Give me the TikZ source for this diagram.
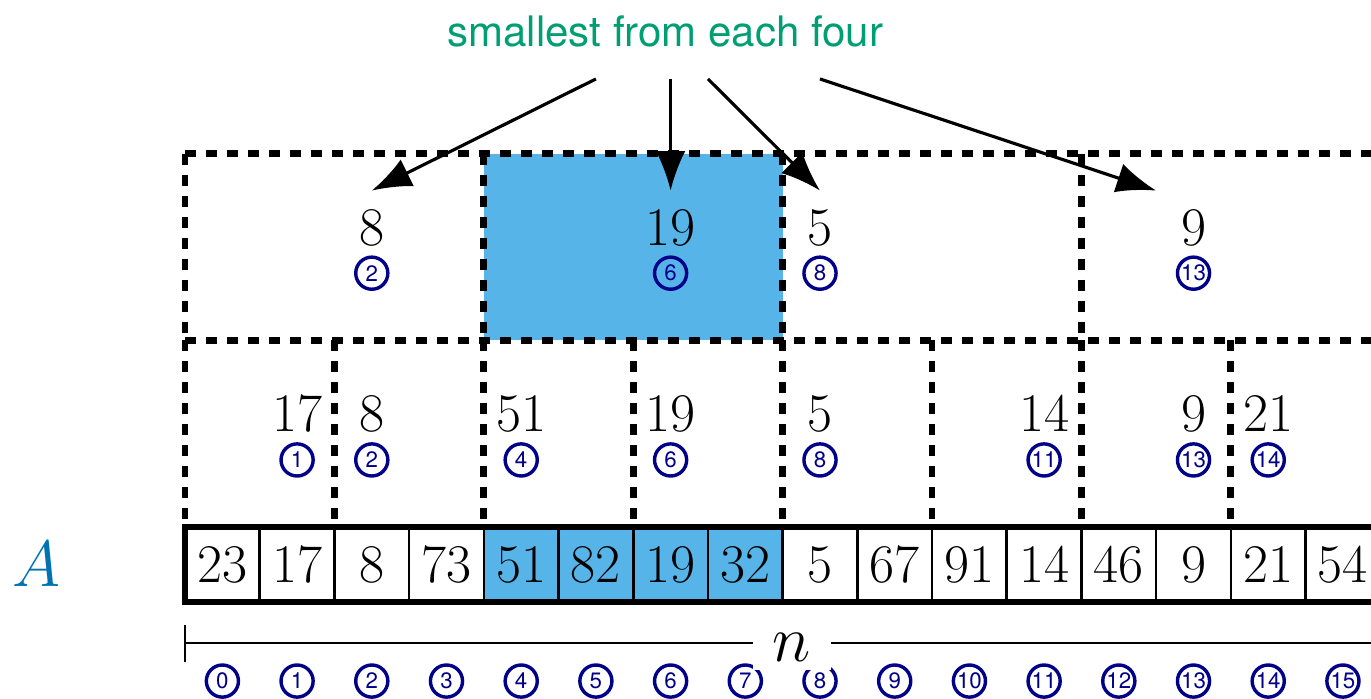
\documentclass[tikz,border=0pt]{standalone}
\usepackage{fontspec}
\setsansfont{TeX Gyre Heros}
\usetikzlibrary{arrows.meta, positioning, calc}
\definecolor{skyblue}{HTML}{56B4E9}
\definecolor{bgreen}{HTML}{009E73}
\definecolor{dblue}{HTML}{0072B2}
\definecolor{idxblue}{HTML}{000088}

\begin{document}
\begin{tikzpicture}[>={Latex[length=5.3mm,width=4mm]}, semithick,
    cell/.style={draw, line width=1pt, minimum width=1cm, minimum height=1cm, inner sep=0pt, outer sep=0pt, font=\huge},
    val/.style={inner sep=0.26cm, font=\huge},
    idx/.style={circle, draw=idxblue, text=idxblue, line width=1.3pt, minimum size=0.43cm, inner sep=0pt, font=\sffamily\fontsize{8.5}{9}\selectfont},
    grp/.style={line width=2.6pt, dash pattern=on 4.2pt off 3.8pt}]
  \useasboundingbox (-2.477,0) rectangle (15.876,9.357);
  % highlighted group of four
  \fill[skyblue] (4,4.8) rectangle (8,7.3);
  % dashed groups (pairs and fours)
  \draw[grp] (0,7.3) -- (17,7.3) (0,4.8) -- (17,4.8);
  \foreach \x in {0,4,8,12} \draw[grp] (\x,7.3) -- (\x,4.8);
  \foreach \x in {0,2,...,14} \draw[grp] (\x,4.8) -- (\x,2.3);
  % the array
  \foreach \v/\c [count=\i from 0] in {23/white,17/white,8/white,73/white,51/skyblue,82/skyblue,19/skyblue,32/skyblue,5/white,67/white,91/white,14/white,46/white,9/white,21/white,54/white}
    \node[cell, fill=\c] (a\i) at (\i+0.5,1.8) {$\v$};
  \draw[line width=2.5pt, line join=miter] (a15.north east) -- (a0.north west) -- (a0.south west) -- (a15.south east);
  \node[text=dblue, font=\Huge] (arr) at (-1.99,1.81) {$A$};
  % smallest of each pair
  \foreach \c/\v [count=\k] in {1/17,2/8,4/51,6/19,8/5,11/14,13/9,14/21} {
    \node[val] (l1v\k) at (\c+0.5,3.81) {$\v$};
    \node[idx] (l1i\k) at (\c+0.5,3.2) {\c};
  }
  % smallest of each four
  \foreach \c/\v [count=\k] in {2/8,6/19,8/5,13/9} {
    \node[val] (l2v\k) at (\c+0.5,6.3) {$\v$};
    \node[idx] (l2i\k) at (\c+0.5,5.7) {\c};
  }
  % indices
  \foreach \i in {0,...,15} \node[idx] (ix\i) at (\i+0.5,0.24) {\i};
  % length n
  \coordinate (nl) at (0,0.75);
  \coordinate (nr) at (17,0.75);
  \draw[line width=1.1pt] ([yshift=0.24cm]nl) -- ([yshift=-0.25cm]nl);
  \draw[line width=1.1pt] (nl) -- (nr);
  \node[fill=white, inner xsep=0.26cm, font=\Huge] (len) at (8.125,0.69) {$n$};
  % title and arrows
  \node[text=bgreen, font=\sffamily\fontsize{16}{19}\selectfont] (title) at (6.43,8.93) {smallest from each four};
  \foreach \x [count=\k] in {5.5,6.5,7.0,8.5} \coordinate (t\k) at (\x,8.3);
  \coordinate (h4) at ($(l2v4.north)+(-0.5,0)$);
  \draw[->, line width=1.2pt] (t1) -- (l2v1.north);
  \draw[->, line width=1.2pt] (t2) -- (l2v2.north);
  \draw[->, line width=1.2pt] (t3) -- (l2v3.north);
  \draw[->, line width=1.2pt] (t4) -- (h4);
\end{tikzpicture}
\end{document}
